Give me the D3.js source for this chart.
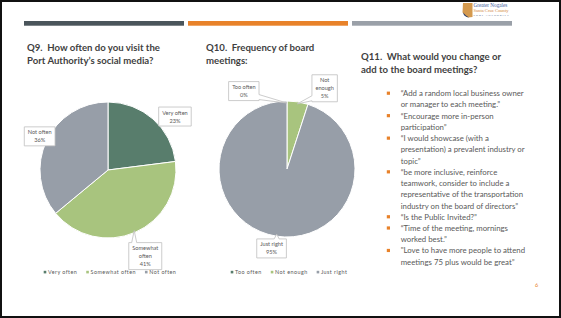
<!DOCTYPE html>
<html>
<head>
<meta charset="utf-8">
<script src="https://cdn.jsdelivr.net/npm/d3@7"></script>
<style>
  html, body { margin: 0; padding: 0; background: #fff; }
  svg { display: block; font-family: Lato, "Open Sans", sans-serif; }
  text { white-space: pre; }
</style>
</head>
<body>
<svg id="slide" width="561" height="318"></svg>
<script>
// ---- data ----
const q9Categories = ["Very often", "Somewhat often", "Not often"];
const q9Values = [23, 41, 36];
const q10Categories = ["Too often", "Not enough", "Just right"];
const q10Values = [0, 5, 95];
const sliceColors = ["#587d6c", "#a8c47e", "#979ea8"];
const headerBarColors = ["#4a555b", "#e8822a", "#9aa0a8"];

const q9Title = ["Q9.  How often do you visit the", "Port Authority’s social media?"];
const q10Title = ["Q10.  Frequency of board", "meetings:"];
const q11Title = ["Q11.  What would you change or", "add to the board meetings?"];
const q11Comments = [
  ["“Add a random local business owner", "or manager to each meeting.”"],
  ["“Encourage more in-person", "participation”"],
  ["“I would showcase (with a", "presentation) a prevalent industry or", "topic”"],
  ["“be more inclusive, reinforce", "teamwork, consider to include a",
   "representative of the transportation", "industry on the board of directors”"],
  ["“Is the Public Invited?”"],
  ["“Time of the meeting, mornings", "worked best.”"],
  ["\"Love to have more people to attend", "meetings 75 plus would be great”"]
];
const pageNumber = "6";

// label placement (Excel callouts were dragged by hand)
const labelLayout = {
  "Very often":     { turn: 10,  dist: 1.26 },
  "Somewhat often": { turn: 0,   dist: 1.38, wrap: true },
  "Not often":      { turn: 1,   dist: 1.12 },
  "Too often":      { turn: -29, dist: 1.31 },
  "Not enough":     { turn: 16,  dist: 1.31, wrap: true },
  "Just right":     { turn: 2,   dist: 1.19 }
};

const svg = d3.select("#slide");
const textGray = "#595959";

// slide frame
svg.append("rect")
  .attr("x", 1).attr("y", 1).attr("width", 559).attr("height", 316)
  .attr("fill", "#fff").attr("stroke", "#111").attr("stroke-width", 2);

// header bars
const barX = d3.scaleBand().domain(d3.range(3)).range([24, 512]).paddingInner(0.0244);
svg.selectAll("rect.hbar").data(headerBarColors).join("rect")
  .attr("class", "hbar")
  .attr("x", (d, i) => barX(i)).attr("y", 21)
  .attr("width", barX.bandwidth()).attr("height", 4.7)
  .attr("fill", d => d);

// logo
const logo = svg.append("g");
logo.append("path")
  .attr("d", "M463,3L472.5,3L472.5,17L468,17.5L465,15L462.5,12.5Z")
  .attr("fill", "#d4994e");
logo.append("path")
  .attr("d", "M463,12.5Q464,17 469,17.5L466,15.5Z")
  .attr("fill", "#22345e");
logo.append("text").attr("x", 473.5).attr("y", 6.8)
  .attr("font-family", "Liberation Serif").attr("font-size", 5.2).attr("fill", "#3c5a9a")
  .text("Greater Nogales");
logo.append("text").attr("x", 473.5).attr("y", 12)
  .attr("font-family", "Liberation Serif").attr("font-size", 4.6).attr("fill", "#d4883a")
  .text("Santa Cruz County");
logo.append("text").attr("x", 473.5).attr("y", 16.2)
  .attr("font-family", "Liberation Serif").attr("font-size", 2.8).attr("letter-spacing", 0.9)
  .attr("fill", "#22345e").text("PORT AUTHORITY");

// titles
function title(lines, x, y) {
  const t = svg.append("text").attr("font-size", 9.6).attr("font-weight", "bold").attr("fill", "#3f3f3f");
  lines.forEach((s, i) => t.append("tspan").attr("x", x).attr("y", y + i * 13).text(s));
}
title(q9Title, 27, 50.5);
title(q10Title, 206, 50.5);
title(q11Title, 361, 60);

// callout box with optional pointer
function callout(g, cx, cy, lines, tip, r) {
  const lh = 8, fs = 5.6;
  const grp = g.append("g");
  const path = grp.append("path");
  const txt = grp.append("text").attr("text-anchor", "middle")
    .attr("font-size", fs).attr("fill", textGray);
  lines.forEach((s, i) => txt.append("tspan")
    .attr("x", cx).attr("y", cy - (lines.length - 1) * lh / 2 + i * lh + fs * 0.35).text(s));
  const w = d3.max(txt.selectAll("tspan").nodes(), n => n.getComputedTextLength()) + 7;
  const h = lines.length * lh + 3;
  const x0 = cx - w / 2, x1 = cx + w / 2, y0 = cy - h / 2, y1 = cy + h / 2;
  const clamp = (v, a, b) => Math.max(a, Math.min(b, v));
  const nx = clamp(0, x0, x1), ny = clamp(0, y0, y1);
  let d = `M${x0},${y0}H${x1}V${y1}H${x0}Z`;
  if (Math.hypot(nx, ny) > r) {
    const [tx, ty] = tip, hw = 2.5;
    const ox = tx < x0 ? x0 - tx : tx > x1 ? tx - x1 : 0;
    const oy = ty < y0 ? y0 - ty : ty > y1 ? ty - y1 : 0;
    if (oy >= ox) {
      const b = clamp(tx, x0 + hw + 1, x1 - hw - 1);
      d = ty < y0
        ? `M${x0},${y0}L${b - hw},${y0}L${tx},${ty}L${b + hw},${y0}L${x1},${y0}L${x1},${y1}L${x0},${y1}Z`
        : `M${x0},${y0}L${x1},${y0}L${x1},${y1}L${b + hw},${y1}L${tx},${ty}L${b - hw},${y1}L${x0},${y1}Z`;
    } else {
      const b = clamp(ty, y0 + hw + 1, y1 - hw - 1);
      d = tx < x0
        ? `M${x0},${y0}L${x1},${y0}L${x1},${y1}L${x0},${y1}L${x0},${b + hw}L${tx},${ty}L${x0},${b - hw}Z`
        : `M${x0},${y0}L${x1},${y0}L${x1},${b - hw}L${tx},${ty}L${x1},${b + hw}L${x1},${y1}L${x0},${y1}Z`;
    }
  }
  path.attr("d", d).attr("fill", "#fff").attr("stroke", "#bfbfbf").attr("stroke-width", 0.8);
}

// pies
const charts = [
  { cats: q9Categories, vals: q9Values, cx: 108, cy: 170, r: 68, legendY: 274 },
  { cats: q10Categories, vals: q10Values, cx: 287, cy: 169, r: 68, legendY: 274 }
];
const pie = d3.pie().sort(null).value(d => d.value);

charts.forEach(c => {
  const data = c.cats.map((k, i) => ({ cat: k, value: c.vals[i], color: sliceColors[i] }));
  const arcs = pie(data);
  const arc = d3.arc().innerRadius(0).outerRadius(c.r);
  const g = svg.append("g").attr("transform", `translate(${c.cx},${c.cy})`);
  g.selectAll("path.slice").data(arcs).join("path")
    .attr("class", "slice")
    .attr("d", arc)
    .attr("fill", d => d.data.color)
    .attr("stroke", "#fff").attr("stroke-width", 1);

  arcs.forEach(a => {
    const lay = labelLayout[a.data.cat];
    const mid = (a.startAngle + a.endAngle) / 2;
    const ang = mid + lay.turn * Math.PI / 180;
    const lx = Math.sin(ang) * c.r * lay.dist, ly = -Math.cos(ang) * c.r * lay.dist;
    const lines = (lay.wrap ? a.data.cat.split(" ") : [a.data.cat]).concat([a.data.value + "%"]);
    const tip = [Math.sin(mid) * c.r * 0.97, -Math.cos(mid) * c.r * 0.97];
    callout(g, lx, ly, lines, tip, c.r);
  });

  // legend
  const lg = svg.append("g").attr("font-size", 5.4).attr("letter-spacing", 0.45).attr("fill", textGray);
  const items = data.map(d => {
    const it = lg.append("g");
    it.append("rect").attr("y", -3.2).attr("width", 2.6).attr("height", 2.6).attr("fill", d.color);
    const t = it.append("text").attr("x", 4.3).text(d.cat);
    return { g: it, w: 4.3 + t.node().getComputedTextLength() };
  });
  const gap = 9;
  const total = d3.sum(items, d => d.w) + gap * (items.length - 1);
  let x = c.cx + 2 - total / 2;
  items.forEach(it => {
    it.g.attr("transform", `translate(${x},${c.legendY})`);
    x += it.w + gap;
  });
});

// Q11 comments
const lineCount = d3.sum(q11Comments, d => d.length);
const lineY = d3.scaleLinear().domain([0, lineCount - 1]).range([93.5, 262]);
const cg = svg.append("g").attr("font-size", 7.8).attr("fill", textGray);
let li = 0;
q11Comments.forEach(lines => {
  cg.append("rect").attr("x", 386.8).attr("y", lineY(li) - 1.9)
    .attr("width", 3.2).attr("height", 3.2).attr("fill", "#e8822a");
  lines.forEach(s => {
    cg.append("text").attr("x", 400.7).attr("y", lineY(li) + 2.7).text(s);
    li++;
  });
});

svg.append("text").attr("x", 536.7).attr("y", 287)
  .attr("text-anchor", "middle").attr("font-size", 5.5).attr("fill", "#e8822a")
  .text(pageNumber);
</script>
</body>
</html>
